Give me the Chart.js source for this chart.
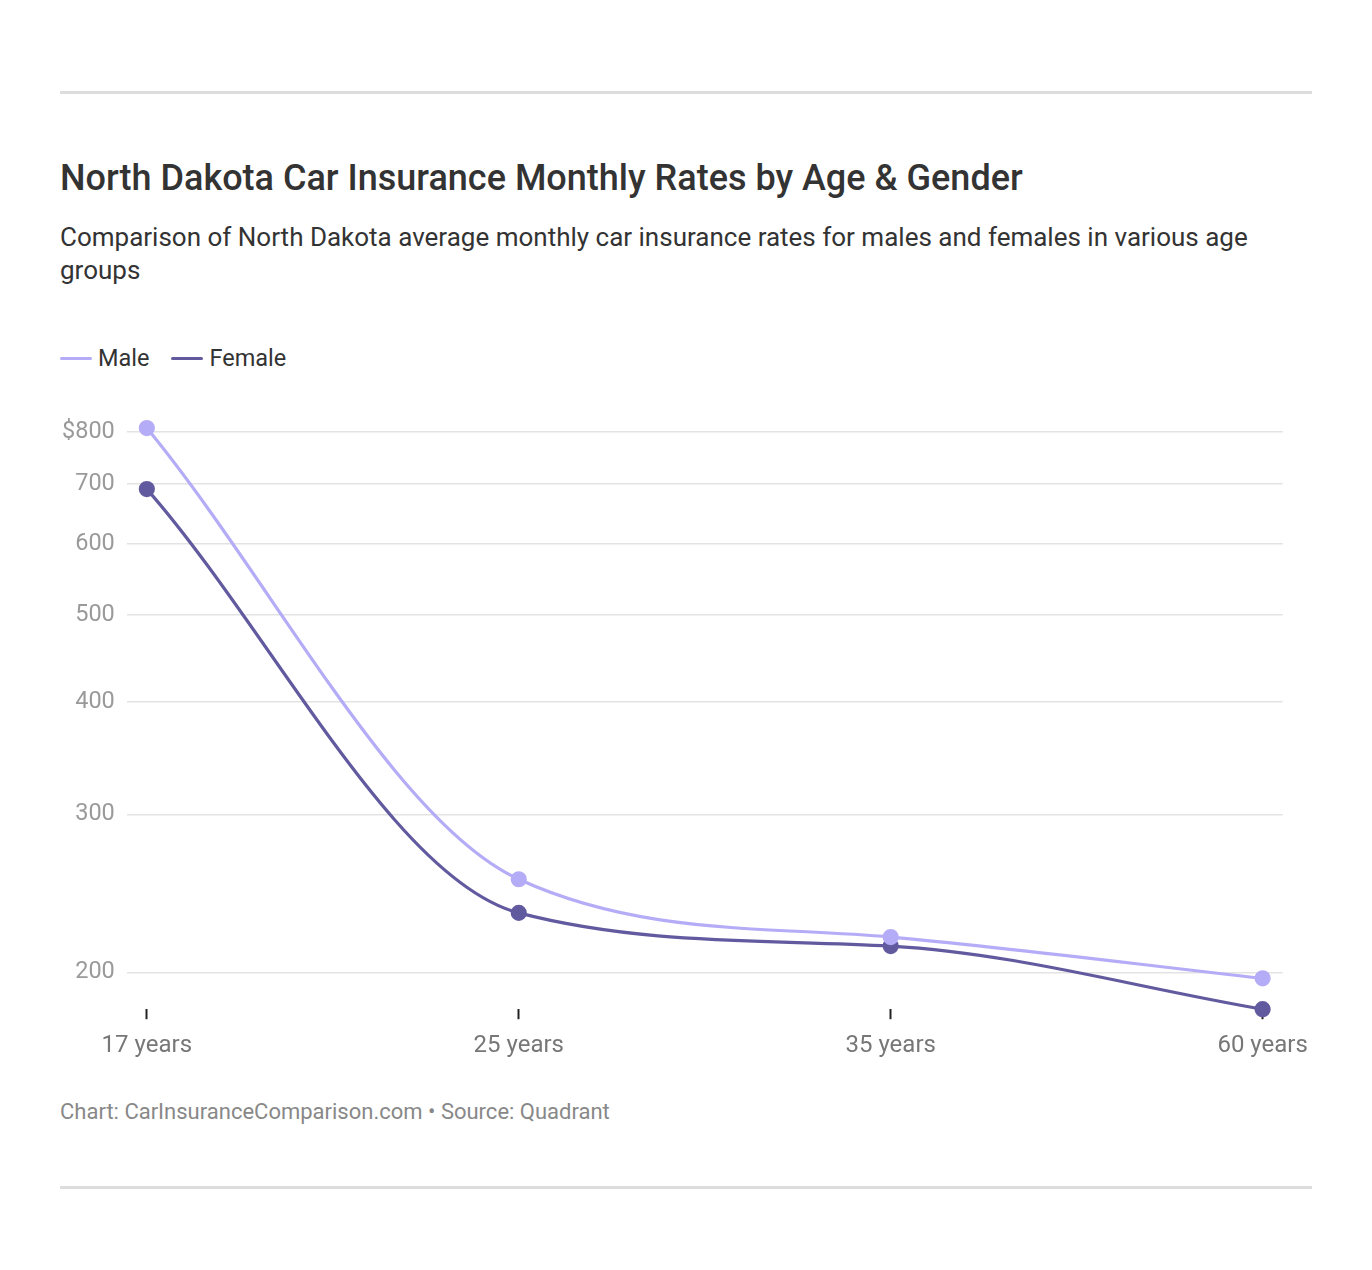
<!DOCTYPE html>
<html>
<head>
<meta charset="utf-8">
<script src="https://cdn.jsdelivr.net/npm/chart.js@4.4.0/dist/chart.umd.min.js"></script>
<style>
    body { margin:0; background:#fff; font-family:Roboto, "Noto Sans", sans-serif; width:1372px; height:1270px; position:relative; overflow:hidden; }
    .rule { position:absolute; left:60px; width:1252px; height:3px; background:#dddddd; }
    h1 { position:absolute; left:60px; top:156px; margin:0; font-size:36px; line-height:44px; font-weight:500; color:#333; }
    .sub { position:absolute; left:60px; top:221px; width:1225px; margin:0; font-size:26px; line-height:33px; color:#333; }
    .foot { position:absolute; left:60px; top:1099px; font-size:22px; line-height:26px; color:#888; }
    #legend { position:absolute; left:60px; top:344px; font-size:23.5px; line-height:28px; color:#333; white-space:nowrap; }
    #legend span.item { display:inline-block; margin-right:22px; }
    #legend span.swatch { display:inline-block; width:32px; height:3px; border-radius:2px; vertical-align:middle; margin-right:6px; position:relative; top:-1px; }
    #wrap { position:absolute; left:50px; top:402px; width:1270px; height:670px; }
</style>
</head>
<body>
<div class="rule" style="top:91px"></div>
<h1>North Dakota Car Insurance Monthly Rates by Age &amp; Gender</h1>
<p class="sub">Comparison of North Dakota average monthly car insurance rates for males and females in various age groups</p>
<div id="legend"></div>
<div id="wrap"><canvas id="chart"></canvas></div>
<div class="foot">Chart: CarInsuranceComparison.com • Source: Quadrant</div>
<div class="rule" style="top:1186px"></div>
<script>
// --- data ---
const ageGroups = ['17 years', '25 years', '35 years', '60 years'];
const maleRates = [808, 254, 219, 197];
const femaleRates = [691, 233, 214, 182];
const yTicks = [200, 300, 400, 500, 600, 700, 800];

const maleColor = '#b4acf6';
const femaleColor = '#615a9f';

function toPoints(values) {
    return values.map((v, i) => ({ x: i, y: v }));
}

const ctx = document.getElementById('chart').getContext('2d');
Chart.defaults.font.family = 'Roboto, "Noto Sans", sans-serif';
const chart = new Chart(ctx, {
    type: 'line',
    data: {
        datasets: [
            {
                label: 'Male', data: toPoints(maleRates),
                borderColor: maleColor, backgroundColor: maleColor,
                borderWidth: 3.2, pointRadius: 6.5, pointHoverRadius: 6.5,
                cubicInterpolationMode: 'monotone', clip: false
            },
            {
                label: 'Female', data: toPoints(femaleRates),
                borderColor: femaleColor, backgroundColor: femaleColor,
                borderWidth: 3.2, pointRadius: 6.5, pointHoverRadius: 6.5,
                cubicInterpolationMode: 'monotone', clip: false
            }
        ]
    },
    options: {
        responsive: true,
        maintainAspectRatio: false,
        animation: false,
        layout: { padding: { top: 20 } },
        plugins: {
            legend: { display: false },
            tooltip: { enabled: false }
        },
        scales: {
            x: {
                type: 'linear',
                min: -0.0538, max: 3.0538,
                afterBuildTicks: axis => { axis.ticks = ageGroups.map((c, i) => ({ value: i })); },
                ticks: {
                    callback: v => ageGroups[v],
                    color: '#777', font: { size: 24 }, padding: 12, maxRotation: 0
                },
                grid: { drawOnChartArea: false, drawTicks: true, tickLength: 10, tickColor: '#222', tickWidth: 2 },
                border: { display: false }
            },
            y: {
                type: 'logarithmic',
                min: 182, max: 808,
                afterBuildTicks: axis => { axis.ticks = yTicks.map(v => ({ value: v })); },
                ticks: {
                    callback: v => v === 800 ? '$800' : String(v),
                    color: '#9a9a9a', font: { size: 23.5 }, padding: 12
                },
                grid: { color: '#e3e3e3', lineWidth: 1.5, drawTicks: false },
                border: { display: false }
            }
        }
    }
});

// simple html legend built from the datasets
const legendEl = document.getElementById('legend');
chart.data.datasets.forEach(ds => {
    legendEl.innerHTML += `<span class="item"><span class="swatch" style="background:${ds.borderColor}"></span>${ds.label}</span>`;
});
</script>
</body>
</html>
